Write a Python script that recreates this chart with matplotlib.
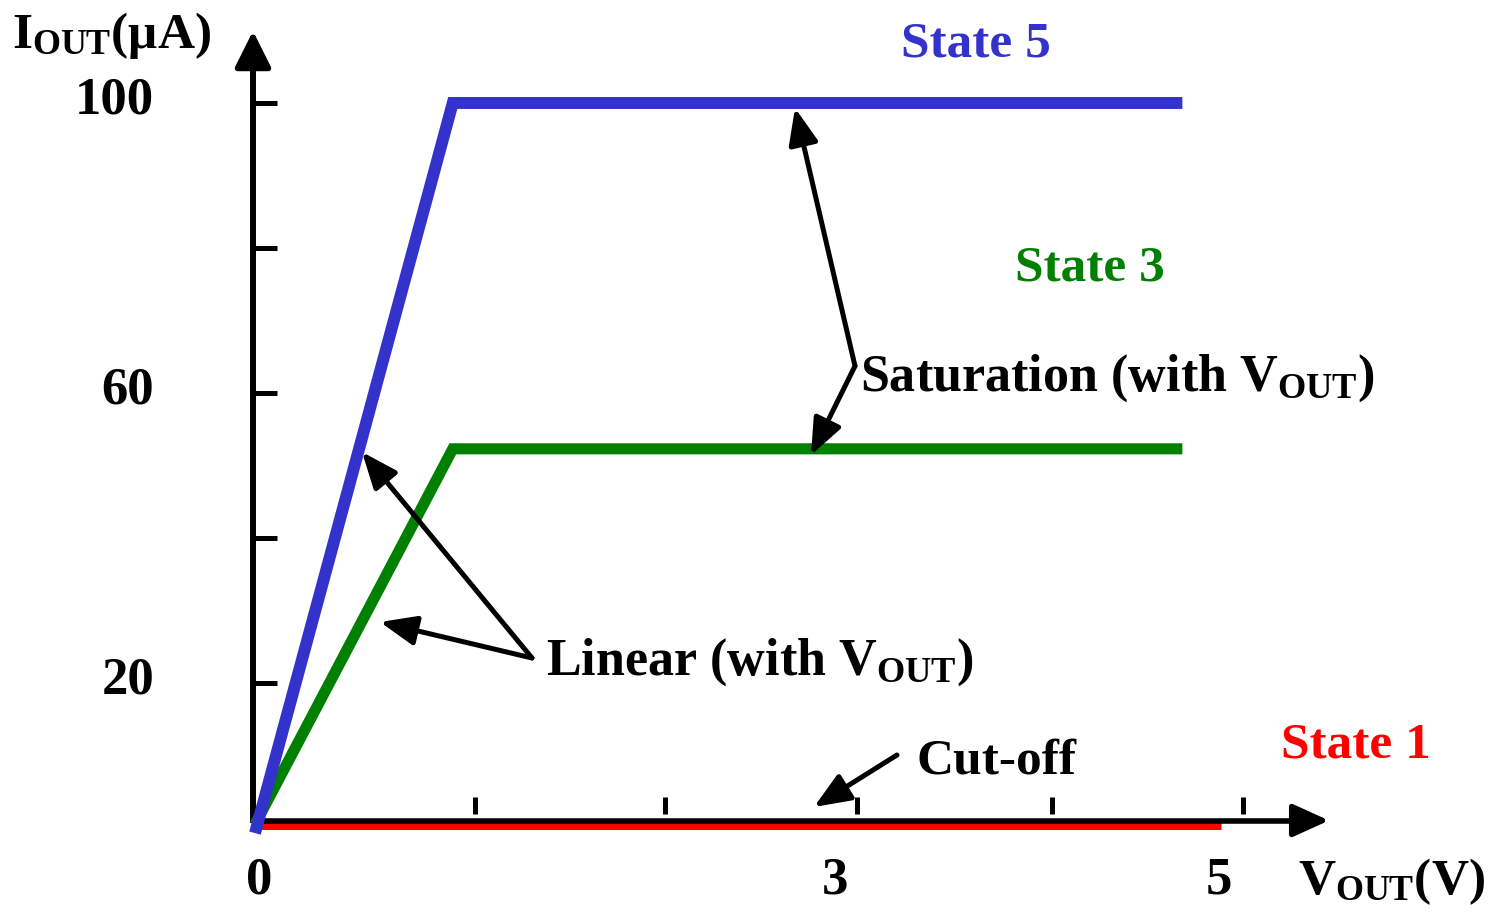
import matplotlib.pyplot as plt

plt.rcParams['font.family'] = ['Liberation Serif', 'DejaVu Serif']
plt.rcParams['font.weight'] = 'bold'
plt.rcParams['mathtext.fontset'] = 'custom'
plt.rcParams['mathtext.rm'] = 'Liberation Serif:bold'
plt.rcParams['mathtext.bf'] = 'Liberation Serif:bold'
plt.rcParams['mathtext.it'] = 'Liberation Serif:bold'

# data (V_OUT in V, I_OUT in uA)
state5_v = [0, 1.03, 4.83]
state5_i = [-0.7, 100, 100]
state3_v = [0, 1.03, 4.83]
state3_i = [0.5, 52.3, 52.3]
state1_v = [0, 5.03]
state1_i = [0.3, 0.3]
y_ticks = [20, 40, 60, 80, 100]
y_ticklabels = ['20', '', '60', '', '100']
x_ticks = [1.146, 2.135, 3.135, 4.151, 5.146]
x_labels = [0, 3, 5]

blue = '#3333cc'
green = '#008000'
red = '#ff0000'

fig = plt.figure(figsize=(14.98, 9.16), dpi=100)
ax = fig.add_axes([0, 0, 1, 1])
ax.set_xlim(-255 / 192, (1498 - 255) / 192)
ax.set_ylim((828 - 916) / 7.25, 828 / 7.25)
ax.axis('off')


# helpers to place annotations by picture position
def X(p):
    return (p - 255) / 192


def Y(p):
    return (828 - p) / 7.25


arrow_kw = dict(arrowstyle='-|>,head_length=1.1,head_width=0.45', color='black',
                lw=3.6, mutation_scale=20, shrinkA=0, shrinkB=0)

# curves
ax.plot(state1_v, state1_i, color=red, lw=5, solid_capstyle='butt', zorder=2)
ax.plot(state3_v, state3_i, color=green, lw=8, solid_capstyle='butt', solid_joinstyle='miter', zorder=3)
ax.plot(state5_v, state5_i, color=blue, lw=8.6, solid_capstyle='butt', solid_joinstyle='miter', zorder=4)

# axes with arrows
x_axis_y = Y(820.5)
ax.plot([X(252), X(1300)], [x_axis_y, x_axis_y], color='black', lw=4, zorder=2.5, solid_capstyle='butt')
ax.annotate('', xy=(X(1329), x_axis_y), xytext=(X(1290), x_axis_y),
            arrowprops=dict(arrowstyle='-|>,head_length=1.1,head_width=0.5', color='black',
                            lw=4, mutation_scale=20, shrinkA=0, shrinkB=0), zorder=2.5)
ax.plot([X(253), X(253)], [Y(823), Y(60)], color='black', lw=4.3, solid_capstyle='butt', zorder=2.5)
ax.annotate('', xy=(X(253), Y(31)), xytext=(X(253), Y(70)),
            arrowprops=dict(arrowstyle='-|>,head_length=1.1,head_width=0.55', color='black',
                            lw=4.3, mutation_scale=20, shrinkA=0, shrinkB=0), zorder=2.5)

# ticks
for t in y_ticks:
    ax.plot([X(253), X(277)], [t, t], color='black', lw=3.6, solid_capstyle='butt')
for t in x_ticks:
    ax.plot([t, t], [Y(814), Y(797)], color='black', lw=3.6, solid_capstyle='butt')

for t, lab in zip(y_ticks, y_ticklabels):
    if lab:
        ax.text(X(154), t + 0.3, lab, ha='right', va='center', fontsize=38)
for t in x_labels:
    ax.text(t + 0.02, Y(880), str(t), ha='center', va='center', fontsize=38)

ax.text(X(12), Y(35), r'I$_{\mathrm{OUT}}$(μA)', ha='left', va='center', fontsize=37)
ax.text(X(1298), Y(882), r'V$_{\mathrm{OUT}}$(V)', ha='left', va='center', fontsize=37)

# state labels
ax.text(X(901), Y(44), 'State 5', color=blue, ha='left', va='center', fontsize=37)
ax.text(X(1015), Y(268), 'State 3', color=green, ha='left', va='center', fontsize=37)
ax.text(X(1281), Y(745), 'State 1', color=red, ha='left', va='center', fontsize=37)

# region annotations
ax.text(X(860), Y(378), r'Saturation (with V$_{\mathrm{OUT}}$)', ha='left', va='center', fontsize=37.5)
ax.annotate('', xy=(X(795), Y(108)), xytext=(X(855), Y(366)), arrowprops=arrow_kw)
ax.annotate('', xy=(X(811), Y(455)), xytext=(X(855), Y(366)), arrowprops=arrow_kw)

ax.text(X(546), Y(662), r'Linear (with V$_{\mathrm{OUT}}$)', ha='left', va='center', fontsize=37.5)
ax.annotate('', xy=(X(362), Y(452)), xytext=(X(532), Y(658)), arrowprops=arrow_kw)
ax.annotate('', xy=(X(380), Y(622)), xytext=(X(532), Y(658)), arrowprops=arrow_kw)

ax.text(X(916), Y(762), 'Cut-off', ha='left', va='center', fontsize=37)
ax.annotate('', xy=(X(814), Y(807)), xytext=(X(897), Y(755)), arrowprops=arrow_kw)

fig.savefig('out.png', dpi=100)
